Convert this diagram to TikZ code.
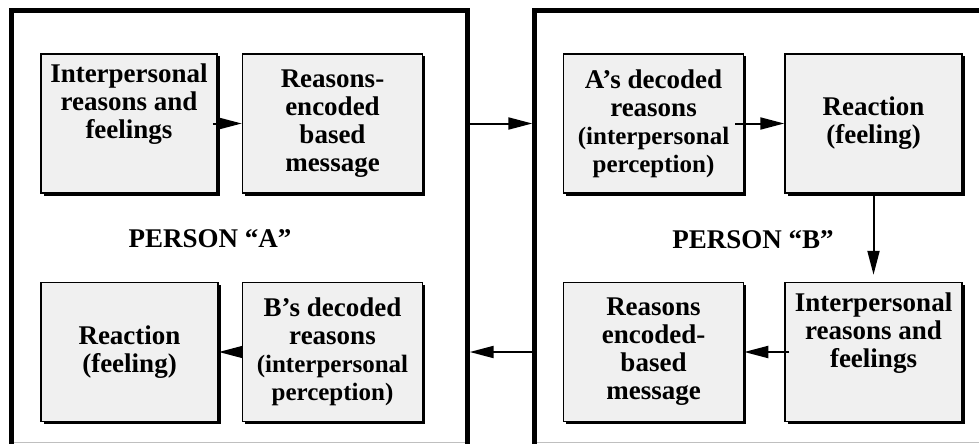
\documentclass[tikz,border=0pt]{standalone}
\usepackage{fontspec}
\setmainfont{Liberation Serif}
\usetikzlibrary{arrows.meta,shadows}
\definecolor{boxgray}{HTML}{F0F0F0}
\newcommand{\smalltxt}[1]{{\fontsize{25}{28}\selectfont #1}}
\tikzset{
  reasonbox/.style={draw=black, line width=1.5pt, fill=boxgray, minimum height=139pt,
    align=center, inner sep=2pt, font=\bfseries\fontsize{27}{28}\selectfont,
    drop shadow={shadow xshift=2.5pt, shadow yshift=-2.5pt, fill=black, opacity=1}},
  personframe/.style={line width=5pt},
  framebase/.style={line width=1pt, color=black!25},
  flow/.style={line width=2pt, -{Triangle[length=24pt,width=12pt]}},
  personlabel/.style={font=\bfseries\fontsize{27}{28}\selectfont},
}
\begin{document}
\begin{tikzpicture}[x=1pt,y=-1pt]

\useasboundingbox (0,0) rectangle (979,444);
\clip (0,0) rectangle (979,444);

% the two persons
\node[minimum width=455pt, minimum height=432pt, inner sep=0pt] (personA) at (239.5,226.5) {};
\node[minimum width=465pt, minimum height=432pt, inner sep=0pt] (personB) at (767.5,226.5) {};

\draw[framebase] (personA.south west) -- (personA.south east);
\draw[framebase] (personB.south west) -- (personB.south east);
\draw[personframe, shorten <=-2pt, shorten >=-2pt] (personA.south west) -- (personA.north west) -- (personA.north east) -- (personA.south east);
\draw[personframe, shorten <=-2pt] (personB.south west) -- (personB.north west) -- (personB.north east);

\node[personlabel] (labelA) at (210,239) {PERSON “A”};
\node[personlabel] (labelB) at (753,240) {PERSON “B”};

% person A
\node[reasonbox, minimum width=176pt] (interA) at (129,123.5) {Interpersonal\\reasons and\\feelings\\[16pt]\mbox{}};
\node[reasonbox, minimum width=180pt] (encodeA) at (332.5,123.5) {Reasons-\\encoded\\based\\message};
\node[reasonbox, minimum width=177pt] (reactA) at (129.5,352) {Reaction\\(feeling)};
\node[reasonbox, minimum width=180pt] (decodeA) at (332.5,352) {B’s decoded\\reasons\\\smalltxt{(interpersonal}\\\smalltxt{perception)}};

% person B
\node[reasonbox, minimum width=180pt] (decodeB) at (653.5,123.5) {A’s decoded\\reasons\\\smalltxt{(interpersonal}\\\smalltxt{perception)}};
\node[reasonbox, minimum width=177pt] (reactB) at (873.5,123.5) {Reaction\\(feeling)};
\node[reasonbox, minimum width=177pt] (interB) at (873.5,352) {Interpersonal\\reasons and\\feelings\\[16pt]\mbox{}};
\node[reasonbox, minimum width=180pt] (encodeB) at (653.5,352) {Reasons\\encoded-\\based\\message};

\draw[flow, shorten <=-5pt] (interA.east) -- (encodeA.west);
\draw[flow, shorten <=2.5pt, shorten >=2.5pt] (personA.east |- encodeA.east) -- (personB.west |- encodeA.east);
\draw[flow, shorten <=-9pt] (decodeB.east) -- (reactB.west);
\draw[flow, shorten >=7pt] (reactB.south) -- (interB.north);
\draw[flow, shorten <=-5pt] (interB.west) -- (encodeB.east);
\draw[flow, shorten <=2.5pt, shorten >=2.5pt] (personB.west |- encodeB.west) -- (personA.east |- encodeB.west);
\draw[flow, shorten <=-6pt] (decodeA.west) -- (reactA.east);

\end{tikzpicture}
\end{document}
